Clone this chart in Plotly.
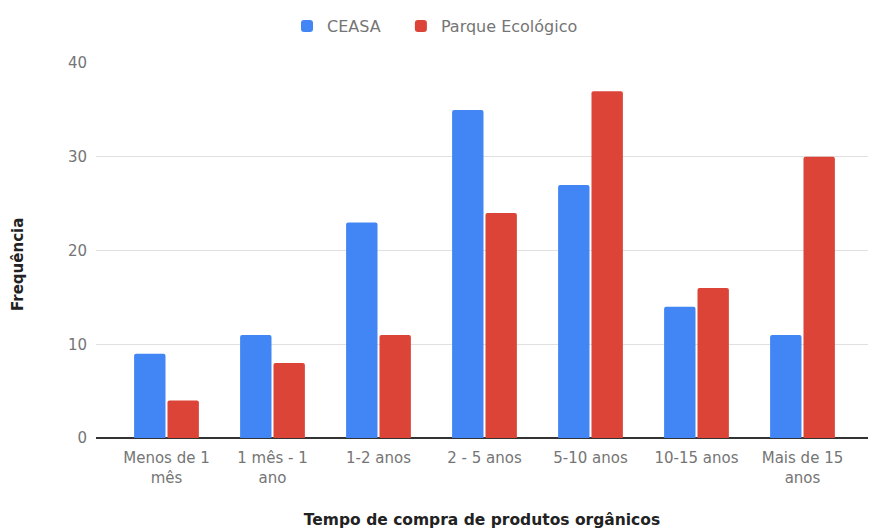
import plotly.graph_objects as go

categories = ["Menos de 1<br>mês", "1 mês - 1<br>ano", "1-2 anos", "2 - 5 anos", "5-10 anos", "10-15 anos", "Mais de 15<br>anos"]
ceasa = [9, 11, 23, 35, 27, 14, 11]
parque = [4, 8, 11, 24, 37, 16, 30]
y_ticks = [0, 10, 20, 30, 40]

FONT = "DejaVu Sans, Roboto, Arial, sans-serif"

fig = go.Figure()
fig.add_trace(go.Bar(x=categories, y=ceasa, name="CEASA\u00a0\u00a0\u00a0",
                     marker=dict(color="#4285F4", cornerradius=2, line=dict(width=0))))
fig.add_trace(go.Bar(x=categories, y=parque, name="Parque Ecológico",
                     marker=dict(color="#DB4437", cornerradius=2, line=dict(width=0))))

fig.update_layout(
    width=869, height=529,
    margin=dict(l=96, r=1, t=63, b=91),
    paper_bgcolor="white", plot_bgcolor="white",
    barmode="group", bargap=0.37, bargroupgap=0.06,
    font=dict(family=FONT, size=15, color="#757575"),
    legend=dict(orientation="h", xref="container", yref="container",
                x=287 / 869, xanchor="left", y=1 - 9 / 529, yanchor="top",
                font=dict(size=16, color="#757575"), itemwidth=30),
    xaxis=dict(range=[-0.665, 6.618], showgrid=False, showline=False,
               tickfont=dict(size=15, color="#757575"), ticks="",
               ticklabelstandoff=9,
               title=dict(text="<b>Tempo de compra de produtos orgânicos</b>",
                          font=dict(size=15.5, color="#222222"), standoff=30)),
    yaxis=dict(range=[0, 40], tickvals=y_ticks, showgrid=True, gridcolor="#e0e0e0",
               zeroline=True, zerolinecolor="#333333", zerolinewidth=1.5,
               showline=False, ticks="", tickfont=dict(size=15, color="#757575"),
               ticklabelstandoff=8),
    annotations=[dict(text="<b>Frequência</b>", textangle=-90,
                      xref="paper", yref="paper",
                      x=(18 - 96) / 772, y=(438 - 265) / 375,
                      xanchor="center", yanchor="middle", showarrow=False,
                      font=dict(family=FONT, size=15, color="#222222"))],
)

fig.write_html("out.html")
